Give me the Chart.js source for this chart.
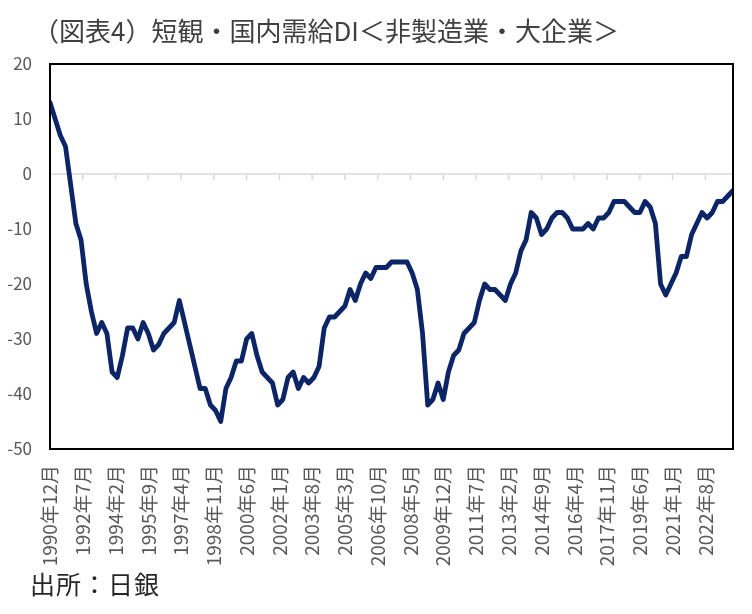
<!DOCTYPE html>
<html lang="ja">
<head>
  <meta charset="UTF-8">
  <title>短観・国内需給DI</title>
  <script src="https://cdn.jsdelivr.net/npm/chart.js"></script>
  <style>
    body {
      margin: 0;
      background: #fff;
      font-family: "Noto Sans CJK JP", sans-serif;
    }
    #wrap {
      position: relative;
      width: 752px;
      height: 614px;
    }
    #title {
      position: absolute;
      left: 33px;
      top: 17px;
      font-size: 26px;
      line-height: 1;
      color: #404040;
      white-space: nowrap;
    }
    #source {
      position: absolute;
      left: 30px;
      top: 571px;
      font-size: 25px;
      letter-spacing: 1px;
      line-height: 1;
      color: #262626;
    }
  </style>
</head>
<body>
  <div id="wrap">
    <canvas id="diChart"></canvas>
    <div id="title">（図表4）短観・国内需給DI＜非製造業・大企業＞</div>
    <div id="source">出所：日銀</div>
  </div>

  <script>
    // quarterly DI, first point 1990年12月, one value per quarter
    const values = [
      13,                                   // 1990
      10, 7, 5, -2,                         // 1991
      -9, -12, -20, -25,                    // 1992
      -29, -27, -29, -36,                   // 1993
      -37, -33, -28, -28,                   // 1994
      -30, -27, -29, -32,                   // 1995
      -31, -29, -28, -27,                   // 1996
      -23, -27, -31, -35,                   // 1997
      -39, -39, -42, -43,                   // 1998
      -45, -39, -37, -34,                   // 1999
      -34, -30, -29, -33,                   // 2000
      -36, -37, -38, -42,                   // 2001
      -41, -37, -36, -39,                   // 2002
      -37, -38, -37, -35,                   // 2003
      -28, -26, -26, -25,                   // 2004
      -24, -21, -23, -20,                   // 2005
      -18, -19, -17, -17,                   // 2006
      -17, -16, -16, -16,                   // 2007
      -16, -18, -21, -29,                   // 2008
      -42, -41, -38, -41,                   // 2009
      -36, -33, -32, -29,                   // 2010
      -28, -27, -23, -20,                   // 2011
      -21, -21, -22, -23,                   // 2012
      -20, -18, -14, -12,                   // 2013
      -7, -8, -11, -10,                     // 2014
      -8, -7, -7, -8,                       // 2015
      -10, -10, -10, -9,                    // 2016
      -10, -8, -8, -7,                      // 2017
      -5, -5, -5, -6,                       // 2018
      -7, -7, -5, -6,                       // 2019
      -9, -20, -22, -20,                    // 2020
      -18, -15, -15, -11,                   // 2021
      -9, -7, -8, -7,                       // 2022
      -5, -5, -4, -3                        // 2023
    ];

    // axis labels, one every 19 months from 1990年12月
    const tickLabels = [
      '1990年12月', '1992年7月', '1994年2月', '1995年9月', '1997年4月',
      '1998年11月', '2000年6月', '2002年1月', '2003年8月', '2005年3月',
      '2006年10月', '2008年5月', '2009年12月', '2011年7月', '2013年2月',
      '2014年9月', '2016年4月', '2017年11月', '2019年6月', '2021年1月',
      '2022年8月'
    ];
    const tickStep = 19;        // months between labels
    const yTicks = [20, 10, 0, -10, -20, -30, -40, -50];

    const points = values.map((v, i) => ({ x: i * 3, y: v }));

    // plot frame plus the light zero axis with its small tick marks
    const frame = {
      id: 'frame',
      beforeDatasetsDraw(chart) {
        const { ctx, chartArea: a, scales } = chart;
        const y0 = scales.y.getPixelForValue(0);
        ctx.save();
        ctx.strokeStyle = '#d9d9d9';
        ctx.lineWidth = 1.5;
        ctx.beginPath();
        ctx.moveTo(a.left, y0);
        ctx.lineTo(a.right, y0);
        scales.x.ticks.forEach(t => {
          const px = scales.x.getPixelForValue(t.value);
          ctx.moveTo(px, y0);
          ctx.lineTo(px, y0 + 6);
        });
        ctx.stroke();
        ctx.restore();
      },
      afterDraw(chart) {
        const { ctx, chartArea: a } = chart;
        ctx.save();
        ctx.strokeStyle = '#000';
        ctx.lineWidth = 2;
        ctx.strokeRect(a.left, a.top, a.right - a.left, a.bottom - a.top);
        ctx.restore();
      }
    };

    new Chart(document.getElementById('diChart'), {
      type: 'line',
      data: {
        datasets: [{
          label: '国内需給DI',
          data: points,
          borderColor: '#0b2566',
          borderWidth: 4.8,
          borderJoinStyle: 'round',
          borderCapStyle: 'round',
          pointRadius: 0,
          tension: 0
        }]
      },
      options: {
        responsive: true,
        maintainAspectRatio: false,
        animation: false,
        layout: { padding: { top: 64, right: 19, left: 0, bottom: 0 } },
        plugins: {
          legend: { display: false },
          tooltip: { enabled: false }
        },
        scales: {
          x: {
            type: 'linear',
            min: 0,
            max: (values.length - 1) * 3,
            grid: { display: false, drawTicks: false },
            border: { display: false },
            afterBuildTicks(scale) {
              scale.ticks = tickLabels.map((l, k) => ({ value: k * tickStep }));
            },
            afterFit(scale) { scale.height = 165; },
            ticks: {
              autoSkip: false,
              minRotation: 90,
              maxRotation: 90,
              padding: 16,
              color: '#595959',
              font: { family: '"Noto Sans CJK JP", sans-serif', size: 19 },
              callback: (value, index) => tickLabels[index]
            }
          },
          y: {
            min: -50,
            max: 20,
            grid: { display: false, drawTicks: false },
            border: { display: false },
            afterBuildTicks(scale) {
              scale.ticks = yTicks.map(v => ({ value: v }));
            },
            afterFit(scale) { scale.width = 50; },
            ticks: {
              padding: 18,
              color: '#595959',
              font: { family: '"Noto Sans CJK JP", sans-serif', size: 17 }
            }
          }
        }
      },
      plugins: [frame]
    });
  </script>
</body>
</html>
